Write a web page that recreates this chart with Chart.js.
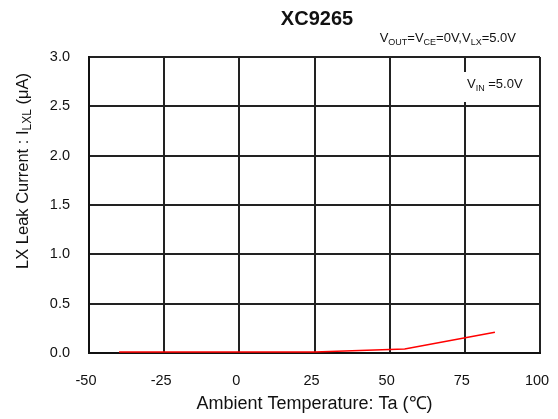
<!DOCTYPE html>
<html>
<head>
<meta charset="utf-8">
<script src="https://cdn.jsdelivr.net/npm/chart.js@4"></script>
<style>
  html, body { margin: 0; padding: 0; background: #fff; }
  #wrap { width: 558px; height: 419px; }
</style>
</head>
<body>
<div id="wrap"><canvas id="leakChart" width="558" height="419"></canvas></div>
<script>
// temperature (°C) and LX leak current (µA)
const temps = [-40, 25, 55, 85];
const leak = [0.01, 0.01, 0.04, 0.21];

const xTicks = [-50, -25, 0, 25, 50, 75, 100];
const yTicks = [0, 0.5, 1.0, 1.5, 2.0, 2.5, 3.0];

const FONT = "'Liberation Sans', Arial, sans-serif";

// draw text made of [text, isSubscript] parts
function drawParts(ctx, parts, x, y, size, align) {
  const subSize = Math.round(size * 0.7);
  let total = 0;
  parts.forEach(([t, sub]) => {
    ctx.font = (sub ? subSize : size) + "px " + FONT;
    total += ctx.measureText(t).width;
  });
  let cx = align === "right" ? x - total : align === "center" ? x - total / 2 : x;
  ctx.textAlign = "left";
  ctx.textBaseline = "alphabetic";
  parts.forEach(([t, sub]) => {
    ctx.font = (sub ? subSize : size) + "px " + FONT;
    ctx.fillText(t, cx, sub ? y + size * 0.2 : y);
    cx += ctx.measureText(t).width;
  });
}

const labelsPlugin = {
  id: "labels",
  afterDraw(chart) {
    const ctx = chart.ctx;
    ctx.save();
    // chart title
    ctx.fillStyle = "#111";
    ctx.font = "bold 20px " + FONT;
    ctx.textAlign = "center";
    ctx.textBaseline = "alphabetic";
    ctx.fillText("XC9265", 317, 25);
    // condition line under the title
    drawParts(ctx, [["V", 0], ["OUT", 1], ["=V", 0], ["CE", 1], ["=0V,V", 0], ["LX", 1], ["=5.0V", 0]], 516, 42, 13, "right");
    // supply voltage box inside the plot (hides the grid behind it)
    ctx.fillStyle = "#fff";
    ctx.fillRect(462, 72, 68, 30);
    ctx.fillStyle = "#111";
    drawParts(ctx, [["V", 0], ["IN", 1], [" =5.0V", 0]], 467, 88, 13, "left");
    // y axis title with subscript
    ctx.translate(22, 171);
    ctx.rotate(-Math.PI / 2);
    drawParts(ctx, [["LX Leak Current : I", 0], ["LXL", 1], [" (\u03bcA)", 0]], 0, 6, 16.5, "center");
    ctx.restore();
  },
};

new Chart(document.getElementById("leakChart"), {
  type: "line",
  data: {
    datasets: [
      {
        data: temps.map((t, i) => ({ x: t, y: leak[i] })),
        borderColor: "#ff0000",
        borderWidth: 1.5,
        pointRadius: 0,
        tension: 0,
        fill: false,
      },
    ],
  },
  plugins: [labelsPlugin],
  options: {
    responsive: false,
    devicePixelRatio: 1,
    animation: false,
    layout: { padding: { top: 57, right: 18 } },
    plugins: {
      legend: { display: false },
      tooltip: { enabled: false },
      title: { display: false },
    },
    scales: {
      x: {
        type: "linear",
        min: xTicks[0],
        max: xTicks[xTicks.length - 1],
        afterBuildTicks: (s) => { s.ticks = xTicks.map((v) => ({ value: v })); },
        afterFit: (s) => {
          s.height = 66;
          s.paddingLeft = 0;
          s.paddingRight = 0;
        },
        grid: { color: "#222", lineWidth: 2, drawTicks: false },
        border: { color: "#111", width: 2 },
        ticks: { color: "#111", font: { family: FONT, size: 14.5 }, padding: 19, maxRotation: 0, labelOffset: -3 },
        title: {
          display: true,
          text: "Ambient Temperature: Ta (\u2103)",
          color: "#111",
          font: { family: FONT, size: 18 },
          padding: { top: 0, bottom: 4 },
        },
      },
      y: {
        min: yTicks[0],
        max: yTicks[yTicks.length - 1],
        afterBuildTicks: (s) => { s.ticks = yTicks.map((v) => ({ value: v })); },
        afterFit: (s) => { s.width = 89; },
        grid: { color: "#222", lineWidth: 2, drawTicks: false },
        border: { color: "#111", width: 2 },
        ticks: { color: "#111", font: { family: FONT, size: 14.5 }, padding: 19, callback: (v) => v.toFixed(1) },
      },
    },
  },
});
</script>
</body>
</html>
